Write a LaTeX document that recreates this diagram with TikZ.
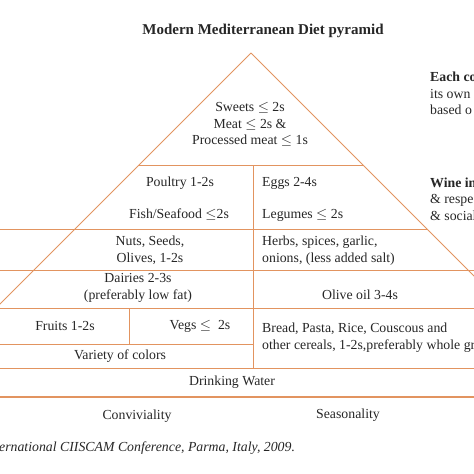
\documentclass[tikz,border=0pt]{standalone}
\usepackage{fontspec}
\setmainfont{Liberation Serif}
\usetikzlibrary{positioning}

\definecolor{pyrline}{RGB}{226,148,96}
\definecolor{inktext}{RGB}{38,38,38}

\begin{document}
\begin{tikzpicture}[
        x = 1pt, y = -1pt,
        band/.style  = {draw = pyrline, line width = 0.9pt},
        food/.style  = {text = inktext, inner sep = 0pt, align = center,
                        font = \fontsize{13.8}{16.6}\selectfont},
        foodl/.style = {food, anchor = west, align = left},
        side/.style  = {foodl, font = \fontsize{13.8}{16.4}\selectfont}
    ]

      \useasboundingbox (0,0) rectangle (474,474);
      \clip (0,0) rectangle (474,474);

      % pyramid outline and bands
      \coordinate (apex) at (251,53);
      \draw[band] (apex) -- (-2,306);
      \draw[band] (apex) -- (476,278);
      \draw[band] (139,165) -- (363,165);
      \draw[band] (0,229) -- (427,229);
      \draw[band] (0,270) -- (474,270);
      \draw[band] (0,308) -- (474,308);
      \draw[band] (0,344) -- (253,344);
      \draw[band] (0,368) -- (474,368);
      \draw[band, line width = 1.3pt] (0,397) -- (474,397);
      \draw[band] (253,165) -- (253,368);
      \draw[band] (129,308) -- (129,344);

      \node[food, font = \bfseries\fontsize{15}{18}\selectfont] (title) at (263,31) {Modern Mediterranean Diet pyramid};

      \node[food] (sweets) at (250,124.5) {Sweets $\leq$ 2s\\Meat $\leq$ 2s \&\\Processed meat $\leq$ 1s};

      \node[food]  (poultry) at (180,183) {Poultry 1-2s};
      \node[food]  (fish)    at (179,215) {Fish/Seafood $\leq$2s};
      \node[foodl] (eggs)    at (262,183) {Eggs 2-4s};
      \node[foodl] (legumes) at (262,215) {Legumes $\leq$ 2s};

      \node[food]  (nuts)  at (150,250.5) {Nuts, Seeds,\\Olives, 1-2s};
      \node[foodl] (herbs) at (262,250.5) {Herbs, spices, garlic,\\onions, (less added salt)};

      \node[food] (dairies) at (138,288) {Dairies 2-3s\\(preferably low fat)};
      \node[food] (olive)   at (360,295) {Olive oil 3-4s};

      \node[food]  (fruits) at (65,326)  {Fruits 1-2s};
      \node[food]  (vegs)   at (200,326) {Vegs $\leq$\ \ 2s};
      \node[food]  (colors) at (120,356) {Variety of colors};
      \node[foodl] (bread)  at (262,337.5) {Bread, Pasta, Rice, Couscous and\\other cereals, 1-2s,preferably whole gr};

      \node[food] (water) at (232,382) {Drinking Water};

      \node[food] (convivial) at (137,416) {Conviviality};
      \node[food] (season)    at (348,415) {Seasonality};

      \node[foodl, font = \itshape\fontsize{13.8}{16}\selectfont] (source) at (-1,448) {ernational CIISCAM Conference, Parma, Italy, 2009.};

      % notes at the right border
      \node[side] (each) at (430,93.5) {\textbf{Each co}\\its own\\based o};
      \node[side] (wine) at (430,199) {\textbf{Wine in}\\\& respe\\\& social};

    \end{tikzpicture}
\end{document}
